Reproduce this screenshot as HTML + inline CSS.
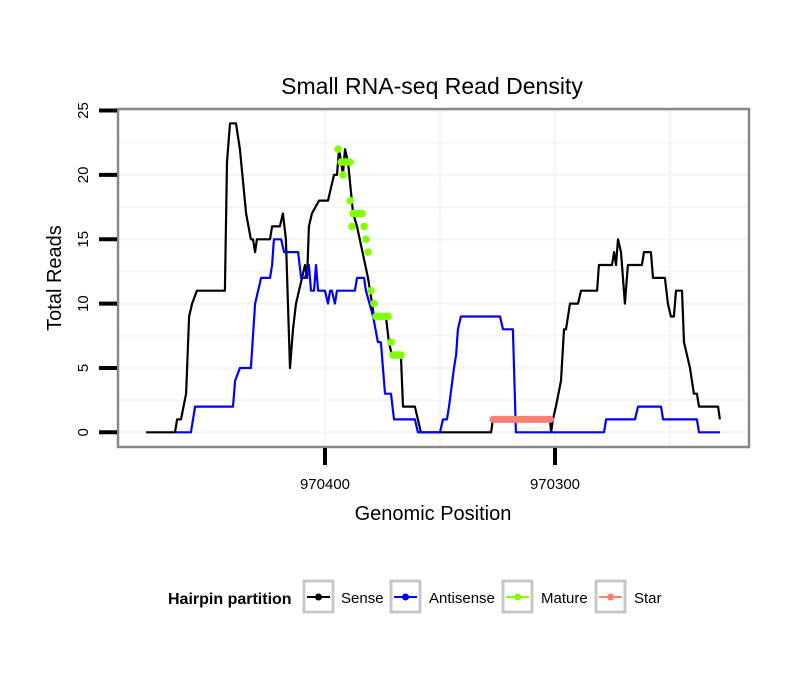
<!DOCTYPE html>
<html><head><meta charset="utf-8"><style>
html,body{margin:0;padding:0;background:#fff;}
svg{display:block;font-family:"Liberation Sans",sans-serif;}
</style></head><body>
<svg id="chart" width="810" height="690" viewBox="0 0 810 690" xmlns="http://www.w3.org/2000/svg">
<rect x="0" y="0" width="810" height="690" fill="#fff"/>
<text x="432" y="94" font-size="23" text-anchor="middle" fill="#000">Small RNA-seq Read Density</text>
<g id="grid"></g>
<g id="series"></g>
<rect x="118" y="109" width="631" height="338" fill="none" stroke="#888" stroke-width="2.5"/>
<g id="axes"></g>
<text x="433" y="520" font-size="20" text-anchor="middle">Genomic Position</text>
<text transform="translate(61,278) rotate(-90)" font-size="20" text-anchor="middle">Total Reads</text>
<g id="legend">
<text x="168" y="604" font-size="16" font-weight="bold">Hairpin partition</text>
</g>
</svg>
<script>
const senseX=[970477.8,970465.2,970464.3,970462.6,970460.4,970459.1,970457.8,970455.7,970443.5,970442.6,970441.3,970438.7,970437.0,970434.3,970432.2,970431.3,970430.4,970429.6,970423.9,970423.0,970419.6,970418.3,970417.0,970415.2,970413.9,970412.6,970411.3,970410.0,970408.7,970407.8,970407.0,970405.7,970402.6,970398.7,970397.4,970396.1,970394.8,970393.9,970393.0,970392.2,970391.3,970390.0,970387.8,970386.1,970381.3,970380.4,970378.7,970373.5,970372.2,970370.9,970367.0,970366.1,970360.9,970359.6,970358.3,970327.8,970327.0,970302.2,970301.7,970300.9,970299.6,970297.4,970296.1,970295.2,970293.5,970290.0,970288.7,970281.7,970280.9,970275.2,970274.3,970273.5,970272.6,970271.3,970269.6,970268.3,970262.2,970261.3,970258.3,970257.4,970252.2,970250.9,970249.6,970248.3,970247.4,970244.8,970243.9,970242.6,970241.3,970239.6,970238.3,970237.4,970229.1,970228.3];
const senseY=[0,0,1,1,3,9,10,11,11,21,24,24,22,17,15,15,14,15,15,16,16,17,15,5,8,10,11,12,13,12,16,17,18,18,19,20,20,22,21,20,22,21,17,16,12,11,9,9,7,6,6,2,2,1,0,0,1,1,0,1,2,4,8,8,10,10,11,11,13,13,14,13,15,14,10,13,13,14,14,12,12,10,9,9,11,11,7,6,5,3,3,2,2,1];
const antiX=[970465.2,970458.3,970456.5,970440.0,970439.1,970437.0,970432.2,970430.4,970429.1,970427.8,970423.9,970423.0,970422.2,970419.1,970417.8,970411.7,970410.4,970408.7,970407.0,970406.1,970404.8,970403.9,970403.0,970400.0,970398.7,970397.8,970397.0,970395.7,970394.8,970387.0,970386.1,970383.0,970382.2,970379.1,970377.0,970375.7,970373.9,970371.3,970370.0,970360.9,970359.6,970350.0,970348.7,970347.0,970346.1,970343.9,970343.0,970342.2,970340.9,970323.9,970322.6,970318.3,970317.0,970278.7,970277.8,970265.2,970263.9,970253.9,970253.0,970238.3,970237.4,970228.3];
const antiY=[0,0,2,2,4,5,5,10,11,12,12,13,15,15,14,14,12,12,13,11,11,13,11,11,10,11,11,10,11,11,12,12,11,9,7,7,3,3,1,1,0,0,1,1,2,5,6,8,9,9,8,8,0,0,1,1,2,2,1,1,0,0];
const matureX=[970394.3,970393.0,970391.7,970390.4,970389.1,970392.2,970389.1,970388.3,970387.8,970386.5,970385.2,970383.9,970383.0,970382.2,970381.3,970380.0,970378.7,970377.8,970376.5,970375.2,970373.9,970372.6,970371.3,970370.4,970369.1,970367.8,970367.0];
const matureY=[22,21,21,21,21,20,18,16,17,17,17,17,16,15,14,11,10,9,9,9,9,9,7,6,6,6,6];
const starX=[970327,970326,970325,970324,970323,970322,970321,970320,970319,970318,970317,970316,970315,970314,970313,970312,970311,970310,970309,970308,970307,970306,970305,970304,970303,970302];
const starY=[1,1,1,1,1,1,1,1,1,1,1,1,1,1,1,1,1,1,1,1,1,1,1,1,1,1];
const yTicks=[0,5,10,15,20,25];
const yMinor=[2.5,7.5,12.5,17.5,22.5];
const xTicks=[970400,970300];
const xMinor=[970350,970250];
const legendLabels=["Sense","Antisense","Mature","Star"];
const legendColors=["#000000","#0000ff","#7fff00","#fa8072"];

const NS="http://www.w3.org/2000/svg";
function xs(p){return 325+(970400-p)*2.3;}
function ys(v){return 432.3-v*12.87;}
function mk(tag,attrs,parent){const e=document.createElementNS(NS,tag);for(const k in attrs)e.setAttribute(k,attrs[k]);parent.appendChild(e);return e;}
const grid=document.getElementById('grid'),ser=document.getElementById('series'),axes=document.getElementById('axes'),leg=document.getElementById('legend');
yTicks.concat(yMinor).forEach(v=>{const l=mk('line',{x1:119,x2:748,y1:ys(v),y2:ys(v),stroke:'#f5f5f5','stroke-width':yMinor.includes(v)?2:2.5},grid);

});
xTicks.concat(xMinor).forEach(p=>{const l=mk('line',{x1:xs(p),x2:xs(p),y1:110,y2:446,stroke:'#f5f5f5','stroke-width':2.5},grid);

});
function pts(X,Y){return X.map((x,i)=>xs(x).toFixed(1)+','+ys(Y[i]).toFixed(1)).join(' ');}
const sl=mk('polyline',{points:pts(senseX,senseY),fill:'none',stroke:'#000','stroke-width':2.2,'stroke-linejoin':'round'},ser);


const al=mk('polyline',{points:pts(antiX,antiY),fill:'none',stroke:'#0000ff','stroke-width':2.2,'stroke-linejoin':'round'},ser);


const st=mk('polyline',{points:pts(starX,starY),fill:'none',stroke:'#fa8072','stroke-width':7,'stroke-linecap':'round'},ser);


matureX.forEach((x,i)=>{const c=mk('circle',{cx:xs(x),cy:ys(matureY[i]),r:3.8,fill:'#7fff00'},ser);

});
yTicks.forEach(v=>{const t=mk('line',{x1:99,x2:117,y1:ys(v),y2:ys(v),stroke:'#000','stroke-width':4},axes);


const tx=mk('text',{transform:`translate(88,${ys(v)}) rotate(-90)`,'font-size':15,'text-anchor':'middle'},axes);tx.textContent=v;

});
xTicks.forEach(p=>{const t=mk('line',{x1:xs(p),x2:xs(p),y1:448,y2:465,stroke:'#000','stroke-width':4},axes);


const tx=mk('text',{x:xs(p),y:489,'font-size':15,'text-anchor':'middle'},axes);tx.textContent=p;

});
const boxX=[304,391,503,596],labX=[341,429,541,634];
legendLabels.forEach((lab,i)=>{const g=mk('g',{},leg);


mk('rect',{x:boxX[i],y:581,width:29,height:31,fill:'#fff',stroke:'#c8c8c8','stroke-width':3},g);
mk('line',{x1:boxX[i]+3,x2:boxX[i]+26,y1:597,y2:597,stroke:legendColors[i],'stroke-width':2},g);
mk('circle',{cx:boxX[i]+14.5,cy:597,r:3.5,fill:legendColors[i]},g);
const t=mk('text',{x:labX[i],y:603,'font-size':15},g);t.textContent=lab;});
</script>
</body></html>
